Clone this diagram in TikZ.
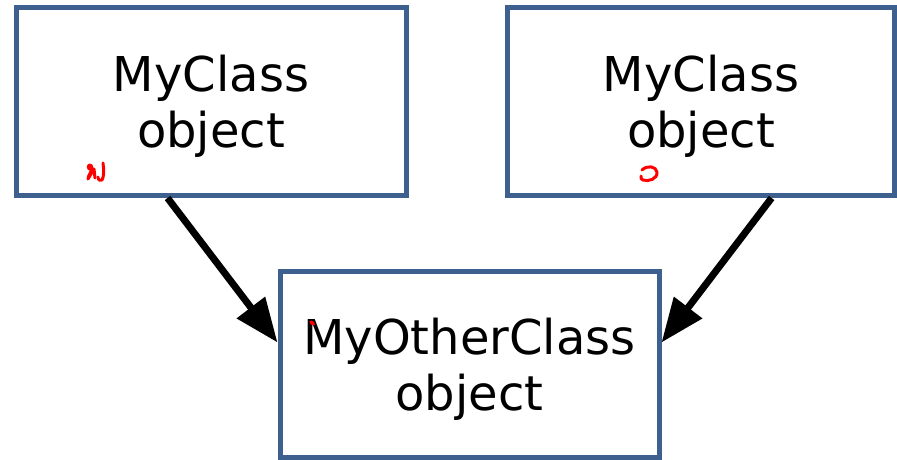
\documentclass[tikz,border=0pt]{standalone}
\usepackage{fontspec}
\setmainfont{DejaVu Sans}
\usetikzlibrary{arrows.meta,calc}
\definecolor{frame}{RGB}{62,96,142}
\definecolor{ink}{RGB}{255,0,0}
\tikzset{
  objbox/.style={draw=frame, line width=5pt, fill=white, inner sep=0pt},
  objtext/.style={inner sep=0pt, align=center, font=\fontsize{48}{56}\selectfont},
  link/.style={line width=7pt, -{Triangle[length=44pt,width=34pt]}},
  scribble/.style={draw=ink, line width=3pt, line cap=round, line join=round}
}
\begin{document}
\begin{tikzpicture}[x=1pt,y=-1pt]
\useasboundingbox (0,0) rectangle (897,460);
\node[objbox, minimum width=390pt, minimum height=188pt] (left)  at (211,101.5) {};
\node[objbox, minimum width=387pt, minimum height=188pt] (right) at (701,101.5) {};
\node[objbox, minimum width=379pt, minimum height=186pt] (bottom) at (469.5,364.5) {};
\node[objtext] (lefttext)   at ([yshift=-5pt]left.center)   {MyClass\\object};
\node[objtext] (righttext)  at ([yshift=-5pt]right.center)  {MyClass\\object};
\node[objtext] (bottomtext) at ([yshift=-5pt]bottom.center) {MyOtherClass\\object};
\draw[link] ($(left.south west)!0.39!(left.south east)$) -- ([yshift=22pt]bottom.west);
\draw[link] ($(right.south west)!0.68!(right.south east)$) -- ([yshift=22pt]bottom.east);
% red pen marks
\draw[scribble] (89,169) .. controls (86,165) and (92,163) .. (92,168) .. controls (92,172) and (88,175) .. (88,179)
  -- (94,169) -- (95,178);
\draw[scribble] (103,163) .. controls (104,170) and (104,177) .. (102,180) .. controls (100,181) and (98,180) .. (98,177);
\draw[scribble] (642,170) .. controls (647,165) and (656,166) .. (657,172) .. controls (658,179) and (648,182) .. (643,180)
  .. controls (641,179) .. (641,176);
\draw[scribble, line width=3.5pt] (311,322) -- (313.5,324);
\end{tikzpicture}
\end{document}
